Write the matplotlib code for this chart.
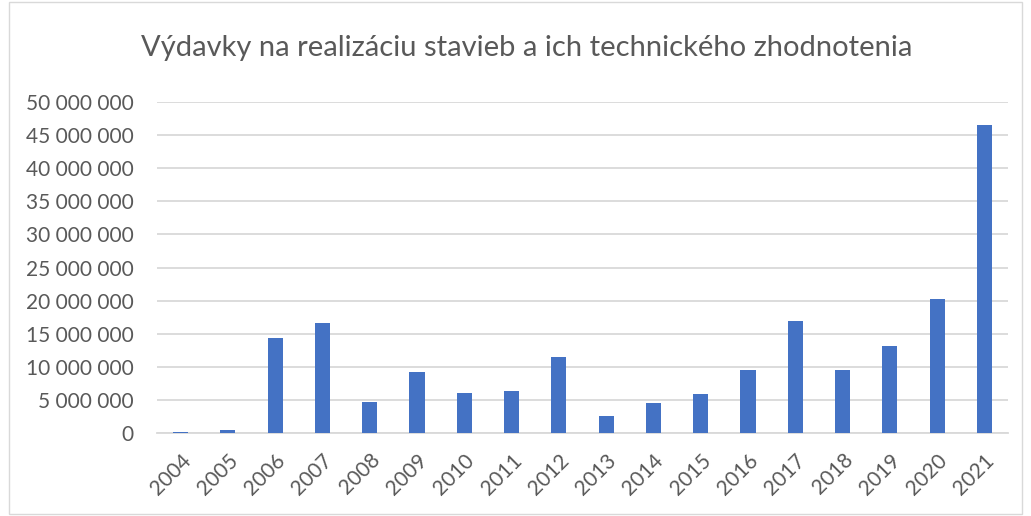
import matplotlib.pyplot as plt
from matplotlib.patches import Rectangle
from matplotlib.ticker import FuncFormatter, MultipleLocator

roky = [str(r) for r in range(2004, 2022)]
vydavky = [200000, 500000, 14370000, 16680000, 4670000, 9250000, 6080000, 6380000,
           11500000, 2610000, 4570000, 5930000, 9550000, 16980000, 9550000,
           13170000, 20250000, 46430000]

plt.rcParams['font.family'] = ['Lato', 'DejaVu Sans']
text_color = '#595959'
grid_color = '#d9d9d9'

fig = plt.figure(figsize=(10.31, 5.16), dpi=100)
ax = fig.add_axes([157 / 1031, 1 - 433.3 / 516, (1008 - 157) / 1031, (433.3 - 101.7) / 516])

x = range(len(roky))
ax.bar(x, vydavky, width=0.32, color='#4472c4', zorder=3)

ax.set_xlim(-0.5, len(roky) - 0.5)
ax.set_ylim(0, 50000000)
ax.yaxis.set_major_locator(MultipleLocator(5000000))
ax.yaxis.set_major_formatter(FuncFormatter(lambda v, p: f"{int(v):,}".replace(",", " ")))
ax.grid(axis='y', color=grid_color, linewidth=1.3, zorder=0)

for s in ['top', 'right', 'left']:
    ax.spines[s].set_visible(False)
ax.spines['bottom'].set_color(grid_color)
ax.spines['bottom'].set_linewidth(1.3)

ax.set_xticks(list(x))
ax.set_xticklabels(roky, rotation=45, ha='right', rotation_mode='anchor')
ax.tick_params(axis='both', length=0, labelsize=15, colors=text_color)
ax.tick_params(axis='y', pad=17)
ax.tick_params(axis='x', pad=12)

fig.text(527 / 1031, 1 - 48 / 516, "Výdavky na realizáciu stavieb a ich technického zhodnotenia",
         ha='center', va='center', fontsize=21, color=text_color)

# ramecek grafu
fig.patches.append(Rectangle((9 / 1031, 2 / 516), 1 - 18 / 1031, 1 - 4 / 516,
                             transform=fig.transFigure, fill=False,
                             edgecolor=grid_color, linewidth=1))

fig.savefig('out.png', dpi=100)
